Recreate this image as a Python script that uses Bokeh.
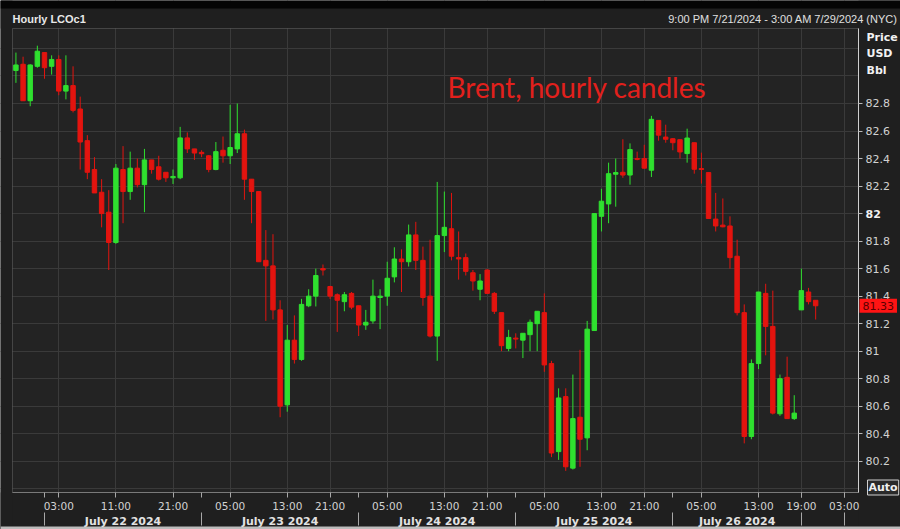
from bokeh.plotting import figure
from bokeh.models import (Range1d, FixedTicker, LinearAxis, Label, ColumnDataSource,
                          Grid, BoxAnnotation)
from bokeh.embed import file_html
from bokeh.resources import INLINE

# ---------------- data (Brent LCOc1 hourly candles, 21 Jul 21:00 -> 28 Jul NYC) ----------------
open_ = [83.04, 83.085, 82.82, 83.07, 83.17, 83.07, 83.12, 82.89, 82.93, 82.76,
         82.53, 82.32, 82.155, 82.01, 81.79, 82.32, 82.16, 82.33, 82.21, 82.39,
         82.34, 82.30, 82.26, 82.26, 82.55, 82.47, 82.445, 82.42, 82.32, 82.46,
         82.42, 82.47, 82.58, 82.25, 82.16, 81.66, 81.62, 81.30, 80.61, 81.08,
         80.94, 81.33, 81.40, 81.60, 81.47, 81.41, 81.36, 81.42, 81.33, 81.19,
         81.22, 81.39, 81.40, 81.54, 81.67, 81.65, 81.845, 81.66, 81.40, 81.11,
         81.84, 81.89, 81.68, 81.68, 81.57, 81.45, 81.59, 81.42, 81.28, 81.02,
         81.095, 81.08, 81.12, 81.20, 81.28, 80.91, 80.27, 80.67, 80.15, 80.52,
         80.37, 81.15, 81.98, 82.07, 82.286, 82.30, 82.28, 82.40, 82.40, 82.315,
         82.677, 82.556, 82.544, 82.537, 82.436, 82.515, 82.327, 82.298, 81.96, 81.916,
         81.91, 81.69, 81.28, 80.38, 80.91, 81.42, 81.18, 80.545, 80.81, 80.51,
         81.30, 81.43, 81.37]
high = [83.17, 83.14, 83.085, 83.22, 83.17, 83.15, 83.15, 83.15, 83.07, 82.85,
        82.57, 82.41, 82.25, 82.17, 82.36, 82.49, 82.45, 82.40, 82.47, 82.39,
        82.42, 82.30, 82.32, 82.63, 82.59, 82.47, 82.46, 82.425, 82.52, 82.56,
        82.79, 82.80, 82.61, 82.25, 82.16, 81.88, 81.85, 81.37, 81.19, 81.26,
        81.38, 81.45, 81.60, 81.63, 81.475, 81.42, 81.43, 81.43, 81.33, 81.30,
        81.52, 81.45, 81.65, 81.755, 81.74, 81.92, 81.94, 81.76, 81.81, 82.23,
        82.16, 82.15, 81.87, 81.71, 81.59, 81.56, 81.595, 81.43, 81.28, 81.155,
        81.13, 81.13, 81.23, 81.29, 81.42, 80.93, 80.73, 80.73, 80.83, 81.01,
        81.22, 82.00, 82.18, 82.37, 82.40, 82.54, 82.51, 82.45, 82.50, 82.71,
        82.677, 82.646, 82.549, 82.537, 82.617, 82.515, 82.443, 82.298, 82.15, 82.11,
        81.98, 81.81, 81.34, 80.94, 81.43, 81.49, 81.44, 80.83, 80.96, 80.68,
        81.60, 81.46, 81.37]
low = [82.95, 82.82, 82.78, 83.06, 82.98, 83.01, 82.86, 82.83, 82.735, 82.32,
       82.25, 82.15, 81.90, 81.59, 81.78, 81.93, 82.10, 82.19, 82.01, 82.29,
       82.24, 82.23, 82.215, 82.25, 82.44, 82.39, 82.41, 82.30, 82.315, 82.37,
       82.36, 82.44, 82.10, 81.93, 81.65, 81.22, 81.23, 80.52, 80.56, 80.91,
       80.93, 81.32, 81.325, 81.55, 81.38, 81.14, 81.29, 81.305, 81.11, 81.155,
       81.20, 81.16, 81.33, 81.50, 81.43, 81.615, 81.59, 81.33, 81.10, 80.93,
       81.72, 81.66, 81.52, 81.55, 81.44, 81.37, 81.42, 81.27, 81.00, 81.00,
       81.02, 80.95, 81.00, 81.00, 80.85, 80.23, 80.21, 80.13, 80.14, 80.16,
       80.28, 81.15, 81.87, 81.93, 82.05, 82.26, 82.21, 82.387, 82.327, 82.266,
       82.53, 82.515, 82.46, 82.40, 82.37, 82.29, 82.218, 81.964, 81.87, 81.90,
       81.60, 81.26, 80.33, 80.36, 80.87, 80.97, 80.54, 80.53, 80.51, 80.50,
       81.30, 81.34, 81.23]
close = [83.08, 82.82, 83.08, 83.18, 83.06, 83.12, 82.89, 82.93, 82.75, 82.52,
         82.30, 82.15, 82.00, 81.79, 82.33, 82.16, 82.33, 82.21, 82.39, 82.32,
         82.25, 82.26, 82.27, 82.55, 82.47, 82.44, 82.435, 82.32, 82.45, 82.42,
         82.48, 82.58, 82.25, 82.16, 81.65, 81.62, 81.30, 80.60, 81.08, 80.94,
         81.34, 81.40, 81.55, 81.59, 81.40, 81.37, 81.41, 81.32, 81.19, 81.21,
         81.40, 81.40, 81.53, 81.67, 81.65, 81.845, 81.66, 81.39, 81.11, 81.84,
         81.90, 81.69, 81.67, 81.58, 81.51, 81.51, 81.42, 81.29, 81.04, 81.10,
         81.088, 81.13, 81.21, 81.29, 80.90, 80.26, 80.66, 80.16, 80.51, 80.36,
         81.16, 82.00, 82.09, 82.29, 82.298, 82.28, 82.465, 82.394, 82.33, 82.685,
         82.57, 82.54, 82.515, 82.448, 82.549, 82.322, 82.32, 81.964, 81.91, 81.904,
         81.68, 81.28, 80.38, 80.91, 81.43, 81.18, 80.55, 80.80, 80.51, 80.55,
         81.44, 81.36, 81.33]

hour_tick_slots = [6, 14, 22, 30, 38, 44, 52, 60, 66, 74, 82, 88, 96, 104, 110, 116]
hour_tick_labels = ["03:00", "11:00", "21:00", "05:00", "13:00", "21:00", "05:00", "13:00",
                    "21:00", "05:00", "13:00", "21:00", "05:00", "13:00", "19:00", "03:00"]
day_break_slots = [4, 26, 48, 70, 92, 110, 116]
date_labels = ["July 22 2024", "July 23 2024", "July 24 2024", "July 25 2024", "July 26 2024"]
price_ticks = [80.2, 80.4, 80.6, 80.8, 81.0, 81.2, 81.4, 81.6, 81.8, 82.0, 82.2, 82.4, 82.6, 82.8]
price_tick_labels = ["80.2", "80.4", "80.6", "80.8", "81", "81.2", "81.4", "81.6", "81.8",
                     "82", "82.2", "82.4", "82.6", "82.8"]
bold_price = 82.0
last_price = 81.33
chart_title = "Hourly LCOc1"
date_span = "9:00 PM 7/21/2024 - 3:00 AM 7/29/2024 (NYC)"
annotation = "Brent, hourly candles"
unit_lines = ["Price", "USD", "Bbl"]

# ---------------- styling ----------------
UP = "#2fe02f"
DOWN = "#e3140f"
BG = "#232323"
OUTER = "#1f1f1f"
GRID = "#3a3a3a"
TXT = "#d2d2d2"
TICK = "#a8a8a8"
W, H = 900, 529

# chart area (data limits) and pixel placement helpers for the chrome around it
CX0, CX1 = -0.48, 118.0
CY0, CY1 = 79.973, 83.345
PX0, PX1, PY0, PY1 = 12, 858, 28, 492
SX = (PX1 - PX0) / (CX1 - CX0)
SY = (PY1 - PY0) / (CY1 - CY0)


def xd(px):
    return CX0 + (px - PX0) / SX


def yd(py):
    return CY1 - (py - PY0) / SY


n = len(open_)
src = ColumnDataSource(dict(
    x=list(range(n)),
    top=[max(o, c) for o, c in zip(open_, close)],
    bottom=[min(o, c) for o, c in zip(open_, close)],
    high=high,
    low=low,
    color=[UP if c >= o else DOWN for o, c in zip(open_, close)],
))

p = figure(width=W, height=H, output_backend="svg", toolbar_location=None, tools="",
           title=None, x_range=Range1d(xd(0), xd(W)), y_range=Range1d(yd(H), yd(0)),
           x_axis_location=None, y_axis_location=None)
p.center = [r for r in p.center if not isinstance(r, Grid)]
p.min_border = 0
p.min_border_left = 0
p.min_border_right = 0
p.min_border_top = 0
p.min_border_bottom = 0
p.background_fill_color = BG
p.border_fill_color = OUTER
p.outline_line_color = None

# grids (drawn first, then masked outside the chart area)
p.add_layout(Grid(dimension=0, ticker=FixedTicker(ticks=hour_tick_slots), grid_line_color=GRID))
p.add_layout(Grid(dimension=1, ticker=FixedTicker(ticks=[round(80.0 + 0.2 * k, 1) for k in range(17)]),
                  grid_line_color=GRID))
for kw in (dict(bottom=CY1), dict(top=CY0), dict(right=CX0), dict(left=CX1)):
    p.add_layout(BoxAnnotation(fill_color=OUTER, fill_alpha=1, line_color=None,
                               level="underlay", **kw))
p.add_layout(BoxAnnotation(bottom=yd(8), fill_color="#050505", fill_alpha=1, line_color=None,
                           level="underlay"))
p.add_layout(BoxAnnotation(top=yd(526), fill_color="#bcbcbc", fill_alpha=1, line_color=None,
                           level="underlay"))

# candles
p.segment(x0="x", y0="low", x1="x", y1="high", line_color="color", line_width=1, source=src)
p.vbar(x="x", width=0.62, top="top", bottom="bottom", fill_color="color",
       line_color="color", line_width=1, source=src)

# chart frame
p.add_layout(BoxAnnotation(left=CX0, right=CX1, bottom=CY0, top=CY1, fill_alpha=0,
                           line_color="#9a9a9a", line_width=1))

# bottom axis: hours
ax = LinearAxis(fixed_location=CY0, bounds=(CX0, CX1),
                ticker=FixedTicker(ticks=hour_tick_slots, minor_ticks=day_break_slots),
                major_label_overrides={s: lab for s, lab in zip(hour_tick_slots, hour_tick_labels)})
ax.axis_line_color = "#6a6a6a"
ax.major_tick_line_color = TICK
ax.minor_tick_line_color = TICK
ax.major_tick_in = 0
ax.major_tick_out = 5
ax.minor_tick_in = 0
ax.minor_tick_out = 5
ax.major_label_standoff = 2
ax.major_label_text_color = TXT
ax.major_label_text_font = "DejaVu Sans"
ax.major_label_text_font_size = "10.5px"
p.add_layout(ax, "below")

# bottom axis: day separators (tick marks only)
ax_sep = LinearAxis(fixed_location=yd(512), bounds=(CX0, CX1),
                    ticker=FixedTicker(ticks=[], minor_ticks=day_break_slots))
ax_sep.axis_line_color = None
ax_sep.major_tick_line_color = None
ax_sep.major_label_text_font_size = "0px"
ax_sep.minor_tick_line_color = TICK
ax_sep.minor_tick_in = 0
ax_sep.minor_tick_out = 13
p.add_layout(ax_sep, "below")

# bottom axis: dates (labels only)
date_mid = [(day_break_slots[k] + day_break_slots[k + 1]) / 2 for k in range(len(date_labels))]
ax2 = LinearAxis(fixed_location=yd(512), bounds=(CX0, CX1),
                 ticker=FixedTicker(ticks=date_mid),
                 major_label_overrides={m: d for m, d in zip(date_mid, date_labels)})
ax2.axis_line_color = None
ax2.major_tick_line_color = None
ax2.minor_tick_line_color = None
ax2.major_tick_out = 0
ax2.major_tick_in = 0
ax2.minor_tick_out = 0
ax2.minor_tick_in = 0
ax2.major_label_standoff = 2
ax2.major_label_text_color = "#e2e2e2"
ax2.major_label_text_font = "DejaVu Sans"
ax2.major_label_text_font_style = "bold"
ax2.major_label_text_font_size = "11px"
p.add_layout(ax2, "below")

# right axis: price
overrides = {v: s for v, s in zip(price_ticks, price_tick_labels)}
overrides[bold_price] = ""
ay = LinearAxis(fixed_location=CX1, bounds=(CY0, CY1), ticker=FixedTicker(ticks=price_ticks),
                major_label_overrides=overrides)
ay.axis_line_color = "#e6e6e6"
ay.major_tick_line_color = "#b8b8b8"
ay.major_tick_in = 0
ay.major_tick_out = 4
ay.minor_tick_line_color = None
ay.major_label_standoff = 3
ay.major_label_text_color = TXT
ay.major_label_text_font = "DejaVu Sans"
ay.major_label_text_font_size = "11px"
p.add_layout(ay, "right")

# texts
p.add_layout(Label(x=xd(12), y=yd(18), text=chart_title, text_font="Liberation Sans",
                   text_font_style="bold", text_font_size="11px", text_color="#e8e8e8",
                   text_baseline="middle", text_align="left"))
p.add_layout(Label(x=xd(897), y=yd(18), text=date_span, text_font="Liberation Sans",
                   text_font_size="11px", text_color="#e0e0e0",
                   text_baseline="middle", text_align="right"))
for t, py in zip(unit_lines, (37, 53, 70)):
    p.add_layout(Label(x=xd(866), y=yd(py), text=t, text_font="DejaVu Sans",
                       text_font_style="bold", text_font_size="11px", text_color="#f2f2f2",
                       text_baseline="middle", text_align="left"))
p.add_layout(Label(x=xd(865), y=bold_price, text=price_tick_labels[price_ticks.index(bold_price)],
                   text_font="DejaVu Sans", text_font_style="bold", text_font_size="11px",
                   text_color="#f2f2f2", text_baseline="middle", text_align="left"))
p.add_layout(Label(x=xd(447), y=yd(86), text=annotation, text_font="Lato",
                   text_font_size="28px", text_color="#e2201c",
                   text_baseline="middle", text_align="left"))
p.add_layout(Label(x=xd(859), y=last_price, text=f"{last_price:.2f}", text_font="DejaVu Sans",
                   text_font_size="11px", text_color="#5a0000", padding=3,
                   background_fill_color="#ff1414", text_baseline="middle", text_align="left"))
p.add_layout(Label(x=xd(867), y=yd(487), text="Auto", text_font="DejaVu Sans",
                   text_font_style="bold", text_font_size="11px", text_color="#f0f0f0",
                   border_line_color="#d0d0d0", background_fill_color="#2a2a2a", padding=1,
                   text_baseline="middle", text_align="left"))

open("out.html", "w").write(file_html(p, INLINE))
